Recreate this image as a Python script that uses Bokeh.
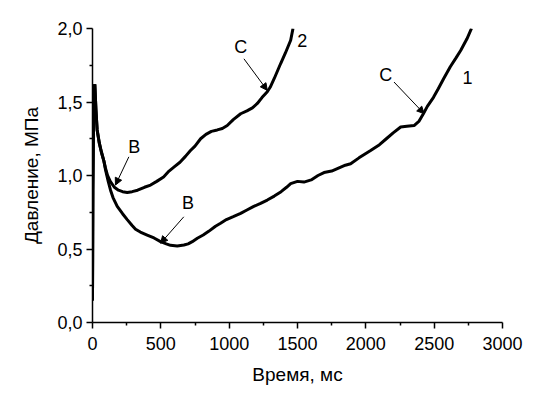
from bokeh.plotting import figure
from bokeh.models import FixedTicker, Label, Arrow, NormalHead
from bokeh.embed import file_html
from bokeh.resources import INLINE

# Curve 2 (upper, shorter)
t2 = [0, 3, 10, 17, 25, 34, 50, 65, 83, 95, 110, 130, 160, 190, 220, 254, 290, 330, 380, 425,
      470, 520, 560, 600, 640, 680, 717, 750, 791, 830, 870, 913, 950, 986, 1030, 1084, 1130,
      1170, 1206, 1240, 1279, 1300, 1330, 1376, 1410, 1450, 1467]
p2 = [0.15, 0.9, 1.60, 1.62, 1.45, 1.31, 1.22, 1.16, 1.10, 1.05, 1.00, 0.96, 0.92, 0.90, 0.89,
      0.885, 0.89, 0.90, 0.92, 0.935, 0.96, 0.99, 1.03, 1.06, 1.09, 1.13, 1.17, 1.20, 1.25, 1.28,
      1.30, 1.31, 1.32, 1.34, 1.38, 1.42, 1.44, 1.46, 1.49, 1.53, 1.57, 1.60, 1.66, 1.76, 1.83,
      1.92, 2.0]

# Curve 1 (lower, longer)
t1 = [0, 3, 10, 17, 25, 34, 50, 65, 83, 95, 115, 132, 150, 181, 220, 254, 290, 315, 350, 400,
      450, 498, 540, 571, 620, 669, 700, 730, 767, 810, 850, 900, 937, 980, 1030, 1084, 1130,
      1180, 1230, 1279, 1330, 1380, 1420, 1450, 1500, 1547, 1600, 1650, 1694, 1750, 1800, 1850,
      1889, 1950, 2000, 2035, 2100, 2150, 2200, 2255, 2300, 2353, 2390, 2421, 2450, 2494, 2530,
      2570, 2618, 2660, 2694, 2740, 2773]
p1 = [0.15, 0.9, 1.60, 1.62, 1.45, 1.31, 1.22, 1.16, 1.10, 1.04, 0.96, 0.90, 0.85, 0.79, 0.74,
      0.70, 0.66, 0.635, 0.615, 0.595, 0.575, 0.55, 0.535, 0.525, 0.52, 0.527, 0.535, 0.55,
      0.573, 0.595, 0.62, 0.655, 0.675, 0.70, 0.72, 0.742, 0.765, 0.79, 0.81, 0.833, 0.86, 0.89,
      0.92, 0.945, 0.96, 0.955, 0.97, 1.0, 1.02, 1.03, 1.05, 1.07, 1.08, 1.12, 1.15, 1.17, 1.21,
      1.25, 1.29, 1.33, 1.335, 1.34, 1.37, 1.42, 1.47, 1.53, 1.59, 1.66, 1.74, 1.80, 1.85, 1.93,
      2.0]

x_ticks = [0, 500, 1000, 1500, 2000, 2500, 3000]
y_ticks = [0.0, 0.5, 1.0, 1.5, 2.0]
y_tick_labels = ["0,0", "0,5", "1,0", "1,5", "2,0"]

# annotations: (text, x, y)
labels = [("2", 1535, 1.919), ("1", 2744, 1.670), ("C", 1084, 1.873), ("C", 2145, 1.681),
          ("B", 306, 1.194), ("B", 699, 0.810)]
# arrows: (x_start, y_start, x_end, y_end)
arrows = [(1108, 1.794, 1279, 1.579), (2206, 1.636, 2426, 1.421),
          (266, 1.127, 168, 0.935), (668, 0.719, 498, 0.539)]

FONT = "Liberation Sans"

p = figure(width=527, height=387, x_range=(0, 3000), y_range=(0, 2.0),
           output_backend="svg", toolbar_location=None,
           min_border_left=92, min_border_right=25, min_border_top=28, min_border_bottom=64)
p.outline_line_color = None
p.xgrid.visible = False
p.ygrid.visible = False

p.line(t1, p1, line_color="black", line_width=3)
p.line(t2, p2, line_color="black", line_width=3)

p.xaxis.ticker = FixedTicker(ticks=x_ticks, minor_ticks=[v + 250 for v in x_ticks[:-1]])
p.yaxis.ticker = FixedTicker(ticks=y_ticks, minor_ticks=[v + 0.25 for v in y_ticks[:-1]])
p.yaxis.major_label_overrides = {v: s for v, s in zip(y_ticks, y_tick_labels)}

p.xaxis.axis_label = "Время, мс"
p.yaxis.axis_label = "Давление, МПа"
for ax in (p.xaxis, p.yaxis):
    ax.axis_line_color = "black"
    ax.axis_line_width = 1.5
    ax.major_tick_line_color = "black"
    ax.minor_tick_line_color = "black"
    ax.major_tick_line_width = 1.5
    ax.minor_tick_line_width = 1.5
    ax.major_tick_out = 6
    ax.major_tick_in = 0
    ax.minor_tick_out = 3
    ax.minor_tick_in = 0
    ax.major_label_text_font = FONT
    ax.major_label_text_font_size = "18px"
    ax.major_label_text_color = "black"
    ax.axis_label_text_font = FONT
    ax.axis_label_text_font_size = "19px"
    ax.axis_label_text_font_style = "normal"
    ax.axis_label_text_color = "black"
p.xaxis.major_label_standoff = 8
p.yaxis.major_label_standoff = 4
p.xaxis.axis_label_standoff = 11
p.yaxis.axis_label_standoff = 12

for txt, x, y in labels:
    p.add_layout(Label(x=x, y=y, text=txt, text_align="center", text_baseline="middle",
                       text_font=FONT, text_font_size="18px", text_color="black"))

for xs, ys, xe, ye in arrows:
    p.add_layout(Arrow(x_start=xs, y_start=ys, x_end=xe, y_end=ye, line_width=1,
                       line_color="black",
                       end=NormalHead(size=7, line_color="black", fill_color="black",
                                      line_width=1)))

open("out.html", "w").write(file_html(p, INLINE))
